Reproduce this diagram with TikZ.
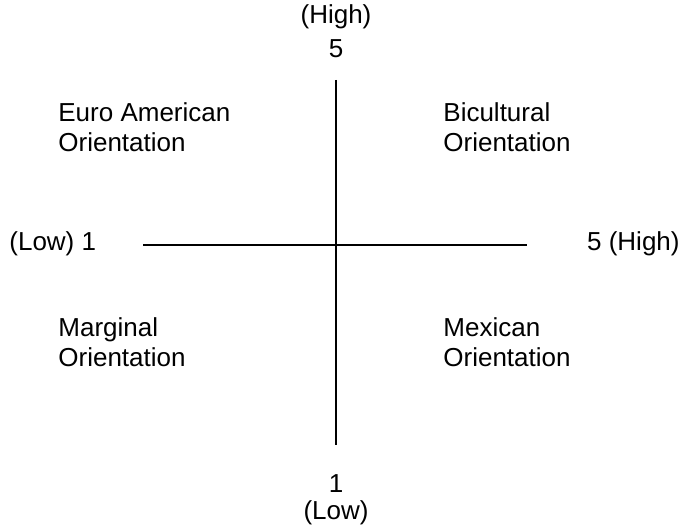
\documentclass[tikz,border=0pt]{standalone}
\usepackage{fontspec}
\setmainfont{Liberation Sans}
\begin{document}
\begin{tikzpicture}[x=0.5pt,y=-0.5pt,font=\fontsize{13}{15}\selectfont,
  lbl/.style={align=left,anchor=base west,inner sep=0pt},
  tick/.style={anchor=base,inner sep=0pt},
  axis/.style={line width=0.7pt}]
\useasboundingbox (0,0) rectangle (683,529);
\coordinate (top) at (336,80);
\coordinate (bot) at (336,445);
\coordinate (lft) at (143,245);
\coordinate (rgt) at (527,245);
\draw[axis] (top) -- (bot);
\draw[axis] (lft) -- (rgt);
% axis ends
\node[tick] (hitop) at (336,24) {(High)};
\node[tick] (fivetop) at (336,58) {5};
\node[tick] (onebot) at (336,492) {1};
\node[tick] (lowbot) at (336,519) {(Low)};
\node[anchor=base west,inner sep=0pt] (lowleft) at (9,250) {(Low) 1};
\node[anchor=base east,inner sep=0pt] (hiright) at (680,250) {5 (High)};
% quadrants
\node[lbl] (euro) at (58,122) {Euro American};
\node[lbl] (euroo) at (58,152) {Orientation};
\node[lbl] (bicult) at (443,122) {Bicultural};
\node[lbl] (bicultt) at (443,152) {Orientation};
\node[lbl] (marg) at (58,336) {Marginal};
\node[lbl] (margg) at (58,366) {Orientation};
\node[lbl] (mex) at (443,336) {Mexican};
\node[lbl] (mexx) at (443,366) {Orientation};
\end{tikzpicture}
\end{document}
